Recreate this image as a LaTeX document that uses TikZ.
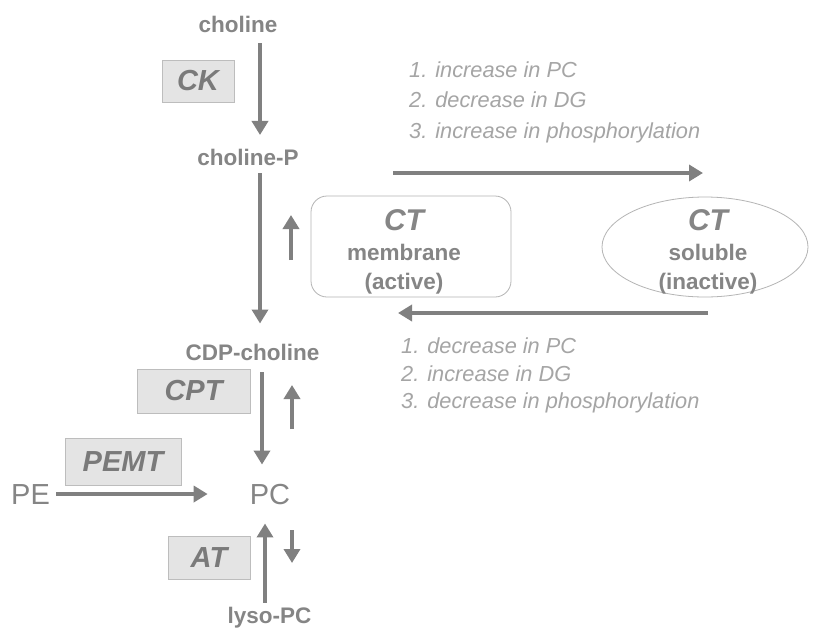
\documentclass[tikz,border=0pt]{standalone}
\usepackage{fontspec}
\setmainfont{Liberation Sans}
\usetikzlibrary{arrows.meta,shapes.geometric}
\definecolor{lab}{HTML}{858585}
\definecolor{enz}{HTML}{7A7A7A}
\definecolor{lst}{HTML}{A5A5A5}
\definecolor{arrc}{HTML}{808080}
\definecolor{boxf}{HTML}{E4E4E4}
\definecolor{boxd}{HTML}{BDBDBD}
\definecolor{ctd}{HTML}{B5B5B5}
\tikzset{
  lbl/.style={inner sep=0pt, anchor=base, text=lab, font=\fontsize{22.5}{27}\selectfont\bfseries},
  big/.style={inner sep=0pt, anchor=base, text=lab, font=\fontsize{29}{34}\selectfont},
  enzbox/.style={draw=boxd, fill=boxf, line width=0.8pt, inner sep=0pt, text=enz,
    font=\fontsize{29}{32}\selectfont\bfseries\itshape},
  lsttxt/.style={inner sep=0pt, anchor=base west, text=lst, font=\fontsize{21.75}{25}\selectfont\itshape},
  arr/.style={draw=arrc, line width=3.5pt, -{Triangle[length=14pt,width=16pt]}},
  ctbox/.style={draw=ctd, line width=0.8pt, inner sep=0pt},
  cttxt/.style={inner sep=0pt, text=lab, align=center, font=\fontsize{22.5}{29.5}\selectfont\bfseries}
}
\begin{document}
\begin{tikzpicture}[x=1pt,y=-1pt]
\useasboundingbox[fill=white] (0,0) rectangle (819,627);
% metabolites
\node[lbl] (choline) at (238,32) {choline};
\node[lbl] (cholineP) at (248,165) {choline-P};
\node[lbl] (cdp) at (252.5,360) {CDP-choline};
\node[big] (pc) at (270,504) {PC};
\node[big] (pe) at (30.5,504) {PE};
\node[lbl] (lyso) at (269.5,623) {lyso-PC};
% enzymes
\node[enzbox, minimum width=72pt, minimum height=42pt] (ck) at (198,81) {CK};
\node[enzbox, minimum width=113pt, minimum height=44pt] (cpt) at (193.5,391) {CPT};
\node[enzbox, minimum width=116pt, minimum height=47pt] (pemt) at (123,461.5) {PEMT};
\node[enzbox, minimum width=82pt, minimum height=43pt] (at) at (209,557.5) {AT};
% CT forms
\node[ctbox, rounded corners=16pt, minimum width=200pt, minimum height=101pt] (ctm) at (411,246.5) {};
\node[cttxt] (ctmtxt) at (404,252) {{\fontsize{30}{30}\selectfont\itshape CT}\\membrane\\(active)};
\node[ctbox, ellipse, minimum width=206pt, minimum height=100pt] (cts) at (705,247) {};
\node[cttxt] (ctstxt) at (708,252) {{\fontsize{30}{30}\selectfont\itshape CT}\\soluble\\(inactive)};
% lists
\node[lsttxt] (l1) at (409,77) {1. increase in PC};
\node[lsttxt] (l2) at (409,107) {2. decrease in DG};
\node[lsttxt] (l3) at (409,138) {3. increase in phosphorylation};
\node[lsttxt] (m1) at (401,353) {1. decrease in PC};
\node[lsttxt] (m2) at (401,381) {2. increase in DG};
\node[lsttxt] (m3) at (401,408) {3. decrease in phosphorylation};
% pathway arrows
\draw[arr, shorten <=11pt, shorten >=13.5pt] ([xshift=22pt]choline.south) -- ([xshift=12pt]cholineP.north);
\draw[arr, shorten <=8pt, shorten >=20pt] ([xshift=12pt]cholineP.south) -- ([xshift=7.5pt]cdp.north);
\draw[arr, shorten <=12pt, shorten >=19pt] ([xshift=9.5pt]cdp.south) -- ([xshift=-8pt]pc.north);
\draw[arr, shorten <=6pt, shorten >=42pt] (pe.east) -- (pe.east -| pc.west);
\draw[arr, shorten <=4pt, shorten >=19pt] ([xshift=-4.5pt]lyso.north) -- ([xshift=-5pt]pc.south);
% small regulation arrows
\coordinate (s1a) at (291,260); \coordinate (s1b) at (291,215);
\coordinate (s2a) at (292,429); \coordinate (s2b) at (292,385);
\coordinate (s3a) at (292,530); \coordinate (s3b) at (292,563);
\draw[arr] (s1a) -- (s1b);
\draw[arr] (s2a) -- (s2b);
\draw[arr] (s3a) -- (s3b);
% translocation arrows
\coordinate (t1) at (393,173); \coordinate (t2) at (703,173);
\coordinate (b1) at (708,313); \coordinate (b2) at (398,313);
\draw[arr] (t1) -- (t2);
\draw[arr] (b1) -- (b2);
\end{tikzpicture}
\end{document}
